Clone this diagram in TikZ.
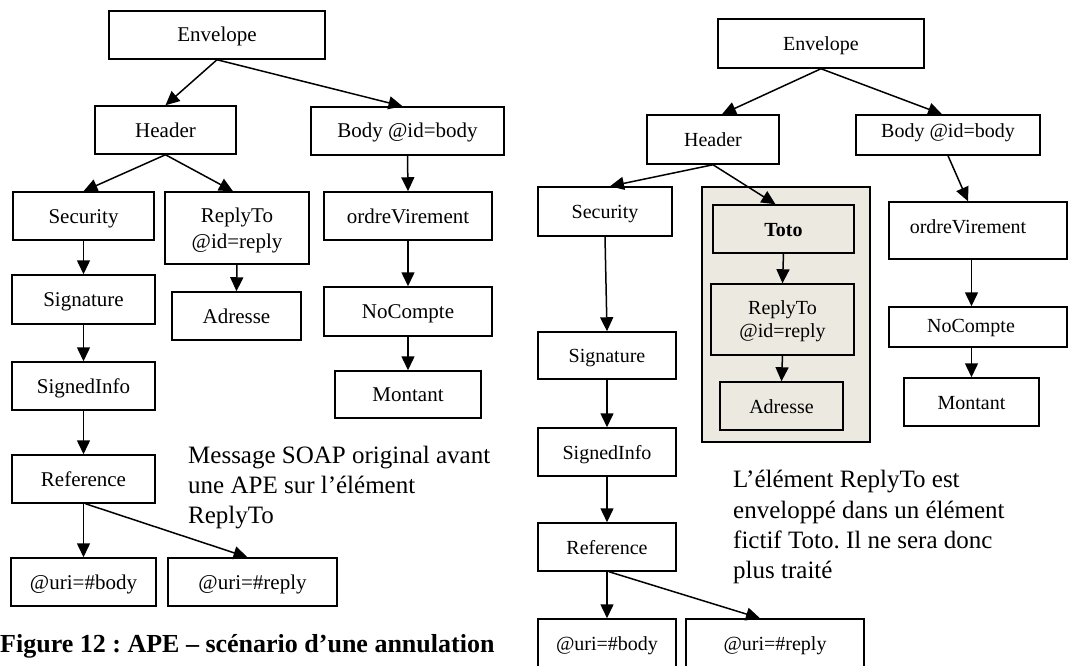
\documentclass[tikz,border=0pt]{standalone}
\usepackage{fontspec}
\setmainfont{Liberation Serif}
\usetikzlibrary{arrows.meta}
\definecolor{wrapfill}{RGB}{236,233,224}
\frenchspacing

% a box given by its corners (x1,y1)-(x2,y2), y counted downwards
\newcommand\elembox[7][]{%
  \node[#1, minimum width={#4-#2}, minimum height={#5-#3}] (#6)
    at ({(#2+#4)/2},{(#3+#5)/2}) {#7};}

\tikzset{
  elembase/.style={draw=black, line width=1.5pt, rectangle, inner sep=0pt,
    text depth=0pt, align=center},
  elem/.style={elembase, text height=14pt},
  elemtwo/.style={elembase},
  lfont/.style={font=\fontsize{21}{26}\selectfont},
  rfont/.style={font=\fontsize{20}{23}\selectfont},
  wrapbox/.style={draw=black, line width=2pt, fill=wrapfill, inner sep=0pt},
  link/.style={line width=1.5pt, -{Triangle[length=14pt,width=13pt]}},
  note/.style={font=\fontsize{25}{30}\selectfont, anchor=base west, inner sep=0pt},
  capt/.style={font=\bfseries\fontsize{26}{30}\selectfont, anchor=base west, inner sep=0pt},
}

\begin{document}
\begin{tikzpicture}[x=1pt,y=-1pt]
\useasboundingbox (0,0) rectangle (1070,666);

% ---------- original message ----------
\elembox[elem,lfont]{109}{11}{325}{59}{lenv}{Envelope}
\elembox[elem,lfont]{95}{106}{236}{154}{lhdr}{Header}
\elembox[elem,lfont]{311}{107}{504}{155}{lbody}{Body @id=body}
\elembox[elem,lfont]{13}{192}{154}{240}{lsec}{Security}
\elembox[elemtwo,lfont]{165}{192}{309}{264}{lreply}{ReplyTo\\@id=reply}
\elembox[elem,lfont]{324}{192}{492}{240}{lordre}{ordreVirement}
\elembox[elem,lfont]{12}{275}{155}{324}{lsig}{Signature}
\elembox[elem,lfont]{172}{292}{301}{340}{ladr}{Adresse}
\elembox[elem,lfont]{324}{287}{492}{336}{lnum}{NoCompte}
\elembox[elem,lfont]{335}{371}{481}{418}{lmont}{Montant}
\elembox[elem,lfont]{12}{362}{155}{410}{lsi}{SignedInfo}
\elembox[elem,lfont]{12}{455}{155}{503}{lref}{Reference}
\elembox[elem,lfont]{11}{558}{156}{606}{luribody}{@uri=\#body}
\elembox[elem,lfont]{168}{558}{337}{606}{lurireply}{@uri=\#reply}

\draw[link] (lenv.south) -- (lhdr.north);
\draw[link] (lenv.south) -- ([xshift=-5pt]lbody.north);
\draw[link] (lhdr.south) -- (lsec.north);
\draw[link] (lhdr.south) -- ([xshift=-4pt]lreply.north);
\draw[link] (lsec.south) -- (lsig.north);
\draw[link] (lreply.south) -- (ladr.north);
\draw[link] (lbody.south) -- (lordre.north);
\draw[link] (lordre.south) -- (lnum.north);
\draw[link] (lnum.south) -- (lmont.north);
\draw[link] (lsig.south) -- (lsi.north);
\draw[link] (lsi.south) -- (lref.north);
\draw[link] (lref.south) -- (luribody.north);
\draw[link] ([xshift=2pt]lref.south) -- ([xshift=-5pt]lurireply.north);

\node[note] (lnotea) at (188,463) {Message SOAP original avant};
\node[note] (lnoteb) at (188,493) {une APE sur l’élément};
\node[note] (lnotec) at (188,523) {ReplyTo};

\node[capt] (caption) at (0,652) {Figure 12 : APE – scénario d’une annulation};

% ---------- wrapped message ----------
\elembox[wrapbox]{702}{187}{870}{442}{rwrap}{}
\elembox[elem,rfont]{718}{19}{924}{68}{renv}{Envelope}
\elembox[elem,rfont]{647}{115}{779}{164}{rhdr}{Header}
\elembox[elem,rfont,text height=13pt,text depth=7pt]{856}{115}{1040}{155}{rbody}{Body @id=body}
\elembox[elem,rfont]{538}{187}{672}{236}{rsec}{Security}
\elembox[elem,rfont]{713}{205}{854}{253}{rtoto}{\textbf{Toto}}
\elembox[elemtwo,rfont]{711}{284}{854}{355}{rreply}{ReplyTo\\@id=reply}
\elembox[elem,rfont]{720}{382}{843}{430}{radr}{Adresse}
\elembox[elem,rfont,text height=13pt,text depth=8pt]{889}{202}{1067}{259}{rordre}{ordreVirement\hspace*{20pt}}
\elembox[elem,rfont,text depth=4pt]{889}{307}{1067}{347}{rnum}{NoCompte\hspace*{14pt}}
\elembox[elem,rfont]{904}{378}{1039}{426}{rmont}{Montant}
\elembox[elem,rfont]{538}{332}{676}{379}{rsig}{Signature}
\elembox[elem,rfont]{538}{428}{676}{476}{rsi}{SignedInfo}
\elembox[elem,rfont]{538}{523}{676}{571}{rref}{Reference}
\elembox[elem,rfont]{538}{619}{676}{668}{ruribody}{@uri=\#body}
\elembox[elem,rfont]{686}{619}{864}{668}{rurireply}{@uri=\#reply}

\draw[link] (renv.south) -- ([xshift=9pt]rhdr.north);
\draw[link] (renv.south) -- ([xshift=-6pt]rbody.north);
\draw[link] (rhdr.south) -- ([xshift=5pt]rsec.north);
\draw[link] (rhdr.south) -- ([xshift=-8pt]rtoto.north);
\draw[link] (rsec.south) -- (rsig.north);
\draw[link] (rtoto.south) -- (rreply.north);
\draw[link] (rreply.south) -- (radr.north);
\draw[link] (rbody.south) -- ([xshift=-10pt]rordre.north);
\draw[link] (rordre.south -| rmont.north) -- (rnum.north -| rmont.north);
\draw[link] (rnum.south -| rmont.north) -- (rmont.north);
\draw[link] (rsig.south) -- (rsi.north);
\draw[link] (rsi.south) -- (rref.north);
\draw[link] (rref.south) -- (ruribody.north);
\draw[link] ([xshift=2pt]rref.south) -- ([xshift=-15pt]rurireply.north);

\node[note] (rnotea) at (733,487) {L’élément ReplyTo est};
\node[note] (rnoteb) at (733,518) {enveloppé dans un élément};
\node[note] (rnotec) at (733,548) {fictif Toto. Il ne sera donc};
\node[note] (rnoted) at (733,578) {plus traité};
\end{tikzpicture}
\end{document}
